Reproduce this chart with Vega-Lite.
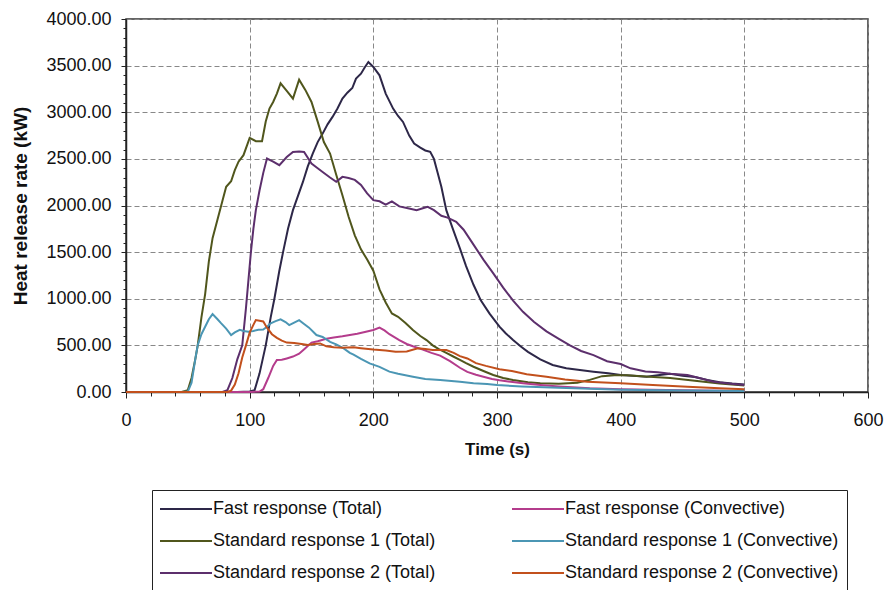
{
  "$schema": "https://vega.github.io/schema/vega-lite/v6.json",
  "width": 742,
  "height": 373,
  "autosize": {"type": "none"},
  "padding": {"left": 126, "top": 19, "right": 21, "bottom": 198},
  "background": "white",
  "config": {
    "view": {"stroke": "#333", "strokeWidth": 1.5},
    "font": "Liberation Sans"
  },
  "data": {"values": [
    {"s":"FT","t":0,"v":0},{"s":"FT","t":50,"v":0},{"s":"FT","t":90,"v":0},{"s":"FT","t":100,"v":5},{"s":"FT","t":104,"v":20},{"s":"FT","t":108,"v":200},{"s":"FT","t":113,"v":500},{"s":"FT","t":117,"v":800},{"s":"FT","t":120,"v":1000},{"s":"FT","t":124,"v":1300},{"s":"FT","t":127,"v":1500},{"s":"FT","t":131,"v":1750},{"s":"FT","t":135,"v":1950},{"s":"FT","t":139,"v":2100},{"s":"FT","t":143,"v":2250},{"s":"FT","t":147,"v":2420},{"s":"FT","t":151,"v":2557},{"s":"FT","t":155,"v":2680},{"s":"FT","t":159,"v":2771},{"s":"FT","t":163,"v":2870},{"s":"FT","t":167,"v":2950},{"s":"FT","t":171,"v":3040},{"s":"FT","t":175,"v":3146},{"s":"FT","t":179,"v":3210},{"s":"FT","t":183,"v":3260},{"s":"FT","t":186,"v":3361},{"s":"FT","t":190,"v":3414},{"s":"FT","t":193,"v":3480},{"s":"FT","t":196,"v":3539},{"s":"FT","t":200,"v":3485},{"s":"FT","t":205,"v":3396},{"s":"FT","t":210,"v":3200},{"s":"FT","t":216,"v":3039},{"s":"FT","t":220,"v":2960},{"s":"FT","t":224,"v":2896},{"s":"FT","t":229,"v":2750},{"s":"FT","t":233,"v":2664},{"s":"FT","t":238,"v":2620},{"s":"FT","t":242,"v":2590},{"s":"FT","t":246,"v":2575},{"s":"FT","t":249,"v":2500},{"s":"FT","t":252,"v":2350},{"s":"FT","t":255,"v":2200},{"s":"FT","t":259,"v":1950},{"s":"FT","t":264,"v":1760},{"s":"FT","t":270,"v":1540},{"s":"FT","t":275,"v":1350},{"s":"FT","t":281,"v":1150},{"s":"FT","t":287,"v":980},{"s":"FT","t":294,"v":840},{"s":"FT","t":302,"v":700},{"s":"FT","t":307,"v":630},{"s":"FT","t":313,"v":557},{"s":"FT","t":319,"v":490},{"s":"FT","t":325,"v":430},{"s":"FT","t":330,"v":390},{"s":"FT","t":335,"v":350},{"s":"FT","t":345,"v":290},{"s":"FT","t":356,"v":254},{"s":"FT","t":367,"v":235},{"s":"FT","t":378,"v":218},{"s":"FT","t":390,"v":200},{"s":"FT","t":400,"v":182},{"s":"FT","t":410,"v":175},{"s":"FT","t":421,"v":164},{"s":"FT","t":430,"v":180},{"s":"FT","t":440,"v":195},{"s":"FT","t":450,"v":175},{"s":"FT","t":460,"v":160},{"s":"FT","t":470,"v":130},{"s":"FT","t":480,"v":105},{"s":"FT","t":490,"v":90},{"s":"FT","t":500,"v":80},

    {"s":"S1T","t":0,"v":0},{"s":"S1T","t":45,"v":0},{"s":"S1T","t":50,"v":20},{"s":"S1T","t":53,"v":150},{"s":"S1T","t":56,"v":350},{"s":"S1T","t":58,"v":500},{"s":"S1T","t":61,"v":800},{"s":"S1T","t":64,"v":1050},{"s":"S1T","t":67,"v":1400},{"s":"S1T","t":70,"v":1650},{"s":"S1T","t":74,"v":1850},{"s":"S1T","t":78,"v":2050},{"s":"S1T","t":81,"v":2200},{"s":"S1T","t":85,"v":2260},{"s":"S1T","t":88,"v":2380},{"s":"S1T","t":91,"v":2470},{"s":"S1T","t":95,"v":2540},{"s":"S1T","t":98,"v":2650},{"s":"S1T","t":100,"v":2725},{"s":"S1T","t":105,"v":2690},{"s":"S1T","t":110,"v":2690},{"s":"S1T","t":113,"v":2900},{"s":"S1T","t":116,"v":3040},{"s":"S1T","t":119,"v":3110},{"s":"S1T","t":122,"v":3200},{"s":"S1T","t":125,"v":3310},{"s":"S1T","t":130,"v":3230},{"s":"S1T","t":135,"v":3146},{"s":"S1T","t":140,"v":3350},{"s":"S1T","t":145,"v":3240},{"s":"S1T","t":150,"v":3110},{"s":"S1T","t":155,"v":2900},{"s":"S1T","t":160,"v":2680},{"s":"S1T","t":165,"v":2557},{"s":"S1T","t":170,"v":2330},{"s":"S1T","t":175,"v":2110},{"s":"S1T","t":180,"v":1880},{"s":"S1T","t":185,"v":1680},{"s":"S1T","t":190,"v":1530},{"s":"S1T","t":195,"v":1420},{"s":"S1T","t":200,"v":1300},{"s":"S1T","t":205,"v":1100},{"s":"S1T","t":210,"v":960},{"s":"S1T","t":215,"v":843},{"s":"S1T","t":220,"v":807},{"s":"S1T","t":226,"v":740},{"s":"S1T","t":232,"v":664},{"s":"S1T","t":238,"v":600},{"s":"S1T","t":243,"v":557},{"s":"S1T","t":248,"v":500},{"s":"S1T","t":253,"v":460},{"s":"S1T","t":259,"v":420},{"s":"S1T","t":265,"v":378},{"s":"S1T","t":270,"v":345},{"s":"S1T","t":275,"v":310},{"s":"S1T","t":281,"v":271},{"s":"S1T","t":290,"v":220},{"s":"S1T","t":297,"v":182},{"s":"S1T","t":305,"v":150},{"s":"S1T","t":313,"v":129},{"s":"S1T","t":325,"v":105},{"s":"S1T","t":335,"v":93},{"s":"S1T","t":350,"v":88},{"s":"S1T","t":365,"v":100},{"s":"S1T","t":375,"v":130},{"s":"S1T","t":385,"v":170},{"s":"S1T","t":395,"v":180},{"s":"S1T","t":405,"v":180},{"s":"S1T","t":420,"v":165},{"s":"S1T","t":440,"v":150},{"s":"S1T","t":460,"v":120},{"s":"S1T","t":480,"v":90},{"s":"S1T","t":500,"v":70},

    {"s":"S2T","t":0,"v":0},{"s":"S2T","t":60,"v":0},{"s":"S2T","t":78,"v":0},{"s":"S2T","t":82,"v":20},{"s":"S2T","t":86,"v":150},{"s":"S2T","t":90,"v":350},{"s":"S2T","t":94,"v":500},{"s":"S2T","t":97,"v":900},{"s":"S2T","t":99,"v":1200},{"s":"S2T","t":101,"v":1500},{"s":"S2T","t":103,"v":1750},{"s":"S2T","t":105,"v":1950},{"s":"S2T","t":108,"v":2164},{"s":"S2T","t":111,"v":2350},{"s":"S2T","t":114,"v":2504},{"s":"S2T","t":119,"v":2470},{"s":"S2T","t":124,"v":2432},{"s":"S2T","t":130,"v":2520},{"s":"S2T","t":135,"v":2575},{"s":"S2T","t":140,"v":2580},{"s":"S2T","t":144,"v":2575},{"s":"S2T","t":150,"v":2450},{"s":"S2T","t":155,"v":2400},{"s":"S2T","t":159,"v":2360},{"s":"S2T","t":165,"v":2300},{"s":"S2T","t":170,"v":2254},{"s":"S2T","t":175,"v":2307},{"s":"S2T","t":180,"v":2295},{"s":"S2T","t":185,"v":2275},{"s":"S2T","t":190,"v":2220},{"s":"S2T","t":195,"v":2130},{"s":"S2T","t":200,"v":2057},{"s":"S2T","t":205,"v":2045},{"s":"S2T","t":210,"v":2010},{"s":"S2T","t":215,"v":2045},{"s":"S2T","t":221,"v":1990},{"s":"S2T","t":228,"v":1970},{"s":"S2T","t":235,"v":1950},{"s":"S2T","t":240,"v":1970},{"s":"S2T","t":244,"v":1985},{"s":"S2T","t":249,"v":1950},{"s":"S2T","t":255,"v":1890},{"s":"S2T","t":260,"v":1870},{"s":"S2T","t":267,"v":1825},{"s":"S2T","t":273,"v":1740},{"s":"S2T","t":281,"v":1580},{"s":"S2T","t":289,"v":1420},{"s":"S2T","t":297,"v":1272},{"s":"S2T","t":305,"v":1120},{"s":"S2T","t":313,"v":980},{"s":"S2T","t":321,"v":860},{"s":"S2T","t":330,"v":750},{"s":"S2T","t":340,"v":650},{"s":"S2T","t":350,"v":570},{"s":"S2T","t":359,"v":500},{"s":"S2T","t":368,"v":440},{"s":"S2T","t":378,"v":396},{"s":"S2T","t":389,"v":330},{"s":"S2T","t":400,"v":300},{"s":"S2T","t":408,"v":254},{"s":"S2T","t":420,"v":220},{"s":"S2T","t":430,"v":212},{"s":"S2T","t":440,"v":195},{"s":"S2T","t":454,"v":182},{"s":"S2T","t":465,"v":145},{"s":"S2T","t":475,"v":111},{"s":"S2T","t":487,"v":90},{"s":"S2T","t":500,"v":75},

    {"s":"FC","t":0,"v":0},{"s":"FC","t":100,"v":0},{"s":"FC","t":108,"v":5},{"s":"FC","t":111,"v":30},{"s":"FC","t":115,"v":150},{"s":"FC","t":119,"v":280},{"s":"FC","t":122,"v":343},{"s":"FC","t":126,"v":345},{"s":"FC","t":130,"v":360},{"s":"FC","t":135,"v":380},{"s":"FC","t":140,"v":410},{"s":"FC","t":145,"v":470},{"s":"FC","t":150,"v":530},{"s":"FC","t":155,"v":545},{"s":"FC","t":162,"v":570},{"s":"FC","t":168,"v":585},{"s":"FC","t":175,"v":597},{"s":"FC","t":181,"v":611},{"s":"FC","t":187,"v":625},{"s":"FC","t":194,"v":646},{"s":"FC","t":200,"v":665},{"s":"FC","t":205,"v":690},{"s":"FC","t":209,"v":660},{"s":"FC","t":213,"v":620},{"s":"FC","t":221,"v":557},{"s":"FC","t":227,"v":515},{"s":"FC","t":232,"v":490},{"s":"FC","t":240,"v":455},{"s":"FC","t":247,"v":420},{"s":"FC","t":254,"v":390},{"s":"FC","t":262,"v":330},{"s":"FC","t":270,"v":260},{"s":"FC","t":276,"v":215},{"s":"FC","t":283,"v":185},{"s":"FC","t":289,"v":164},{"s":"FC","t":296,"v":140},{"s":"FC","t":302,"v":125},{"s":"FC","t":311,"v":110},{"s":"FC","t":321,"v":93},{"s":"FC","t":335,"v":75},{"s":"FC","t":350,"v":60},{"s":"FC","t":375,"v":40},{"s":"FC","t":400,"v":30},{"s":"FC","t":450,"v":20},{"s":"FC","t":500,"v":10},

    {"s":"S1C","t":0,"v":0},{"s":"S1C","t":45,"v":0},{"s":"S1C","t":50,"v":5},{"s":"S1C","t":53,"v":100},{"s":"S1C","t":56,"v":350},{"s":"S1C","t":58,"v":503},{"s":"S1C","t":61,"v":620},{"s":"S1C","t":64,"v":700},{"s":"S1C","t":67,"v":780},{"s":"S1C","t":70,"v":835},{"s":"S1C","t":74,"v":780},{"s":"S1C","t":77,"v":736},{"s":"S1C","t":81,"v":680},{"s":"S1C","t":85,"v":611},{"s":"S1C","t":88,"v":640},{"s":"S1C","t":92,"v":667},{"s":"S1C","t":95,"v":655},{"s":"S1C","t":99,"v":646},{"s":"S1C","t":103,"v":655},{"s":"S1C","t":107,"v":668},{"s":"S1C","t":111,"v":670},{"s":"S1C","t":114,"v":700},{"s":"S1C","t":117,"v":736},{"s":"S1C","t":121,"v":760},{"s":"S1C","t":125,"v":779},{"s":"S1C","t":129,"v":750},{"s":"S1C","t":132,"v":718},{"s":"S1C","t":136,"v":745},{"s":"S1C","t":140,"v":771},{"s":"S1C","t":144,"v":730},{"s":"S1C","t":148,"v":690},{"s":"S1C","t":154,"v":611},{"s":"S1C","t":159,"v":590},{"s":"S1C","t":165,"v":537},{"s":"S1C","t":170,"v":510},{"s":"S1C","t":176,"v":468},{"s":"S1C","t":181,"v":420},{"s":"S1C","t":184,"v":400},{"s":"S1C","t":190,"v":355},{"s":"S1C","t":197,"v":307},{"s":"S1C","t":205,"v":270},{"s":"S1C","t":213,"v":218},{"s":"S1C","t":220,"v":195},{"s":"S1C","t":232,"v":164},{"s":"S1C","t":242,"v":140},{"s":"S1C","t":254,"v":129},{"s":"S1C","t":270,"v":111},{"s":"S1C","t":281,"v":93},{"s":"S1C","t":292,"v":85},{"s":"S1C","t":300,"v":75},{"s":"S1C","t":320,"v":60},{"s":"S1C","t":350,"v":45},{"s":"S1C","t":375,"v":35},{"s":"S1C","t":400,"v":25},{"s":"S1C","t":450,"v":15},{"s":"S1C","t":500,"v":10},

    {"s":"S2C","t":0,"v":0},{"s":"S2C","t":70,"v":0},{"s":"S2C","t":82,"v":0},{"s":"S2C","t":85,"v":15},{"s":"S2C","t":88,"v":80},{"s":"S2C","t":91,"v":200},{"s":"S2C","t":94,"v":370},{"s":"S2C","t":97,"v":500},{"s":"S2C","t":100,"v":636},{"s":"S2C","t":103,"v":720},{"s":"S2C","t":105,"v":771},{"s":"S2C","t":108,"v":765},{"s":"S2C","t":111,"v":757},{"s":"S2C","t":114,"v":690},{"s":"S2C","t":118,"v":620},{"s":"S2C","t":122,"v":580},{"s":"S2C","t":126,"v":550},{"s":"S2C","t":130,"v":530},{"s":"S2C","t":136,"v":525},{"s":"S2C","t":142,"v":515},{"s":"S2C","t":147,"v":503},{"s":"S2C","t":152,"v":515},{"s":"S2C","t":157,"v":521},{"s":"S2C","t":162,"v":490},{"s":"S2C","t":168,"v":480},{"s":"S2C","t":175,"v":475},{"s":"S2C","t":184,"v":480},{"s":"S2C","t":190,"v":470},{"s":"S2C","t":200,"v":455},{"s":"S2C","t":210,"v":445},{"s":"S2C","t":218,"v":432},{"s":"S2C","t":227,"v":435},{"s":"S2C","t":236,"v":468},{"s":"S2C","t":242,"v":460},{"s":"S2C","t":248,"v":450},{"s":"S2C","t":254,"v":450},{"s":"S2C","t":259,"v":450},{"s":"S2C","t":265,"v":420},{"s":"S2C","t":270,"v":385},{"s":"S2C","t":276,"v":360},{"s":"S2C","t":283,"v":310},{"s":"S2C","t":291,"v":280},{"s":"S2C","t":302,"v":245},{"s":"S2C","t":312,"v":225},{"s":"S2C","t":324,"v":190},{"s":"S2C","t":340,"v":164},{"s":"S2C","t":355,"v":135},{"s":"S2C","t":373,"v":111},{"s":"S2C","t":400,"v":93},{"s":"S2C","t":426,"v":75},{"s":"S2C","t":454,"v":57},{"s":"S2C","t":480,"v":39},{"s":"S2C","t":500,"v":30}
  ]},
  "layer": [
    {
      "mark": {"type": "line", "opacity": 0},
      "encoding": {
        "x": {"field": "t", "type": "quantitative", "scale": {"domain": [0, 600], "nice": false},
          "axis": {"orient": "bottom", "values": [20,40,60,80,120,140,160,180,220,240,260,280,320,340,360,380,420,440,460,480,520,540,560,580], "labels": false, "grid": false, "domain": false, "tickSize": 4, "tickColor": "#222", "title": null}},
        "y": {"field": "v", "type": "quantitative", "scale": {"domain": [0, 4000], "nice": false},
          "axis": {"orient": "left", "values": [100,200,300,400,600,700,800,900,1100,1200,1300,1400,1600,1700,1800,1900,2100,2200,2300,2400,2600,2700,2800,2900,3100,3200,3300,3400,3600,3700,3800,3900], "labels": false, "grid": false, "domain": false, "tickSize": 3, "tickColor": "#222", "title": null}},
        "detail": {"field": "s"}
      }
    },
    {
      "mark": {"type": "line", "strokeWidth": 2},
      "encoding": {
        "x": {"field": "t", "type": "quantitative", "scale": {"domain": [0, 600], "nice": false},
          "axis": {"orient": "bottom", "values": [0,100,200,300,400,500,600], "format": "d", "labelFlush": false, "labelOverlap": false, "grid": true, "gridColor": "#888", "gridDash": [5, 3], "gridWidth": 1, "domainColor": "#222", "domainWidth": 1.5, "tickColor": "#222", "tickSize": 6, "labelFontSize": 18, "labelColor": "#111", "labelPadding": 13, "title": "Time (s)", "titleFontSize": 17, "titleFontWeight": "bold", "titleColor": "#111", "titlePadding": 12}},
        "y": {"field": "v", "type": "quantitative", "scale": {"domain": [0, 4000], "nice": false},
          "axis": {"orient": "left", "values": [0,500,1000,1500,2000,2500,3000,3500,4000], "format": ".2f", "labelFlush": false, "labelOverlap": false, "grid": true, "gridColor": "#888", "gridDash": [5, 3], "gridWidth": 1, "domainColor": "#222", "domainWidth": 1.5, "tickColor": "#222", "tickSize": 5, "labelFontSize": 18, "labelColor": "#111", "labelPadding": 10, "title": "Heat release rate (kW)", "titleFontSize": 19, "titleFontWeight": "bold", "titleColor": "#111", "titlePadding": 15}},
        "color": {"field": "s", "type": "nominal",
          "scale": {"domain": ["FT","FC","S1T","S1C","S2T","S2C"], "range": ["#2d2748","#b43c8c","#50561c","#4b96b4","#5c2f6c","#c2501c"]},
          "legend": {"orient": "none", "legendX": 26, "legendY": 471, "columns": 2, "direction": "horizontal", "title": null,
            "symbolType": "M-1.1,0H4.1", "symbolSize": 400, "symbolStrokeWidth": 2, "labelFontSize": 18, "labelColor": "#111", "labelLimit": 400,
            "labelOffset": 31, "rowPadding": 12, "columnPadding": 72, "strokeColor": "#222", "fillColor": "white", "padding": 8,
            "labelExpr": "{'FT':'Fast response (Total)','FC':'Fast response (Convective)','S1T':'Standard response 1 (Total)','S1C':'Standard response 1 (Convective)','S2T':'Standard response 2 (Total)','S2C':'Standard response 2 (Convective)'}[datum.label]"}}
      }
    }
  ],
  "resolve": {"axis": {"x": "independent", "y": "independent"}}
}
